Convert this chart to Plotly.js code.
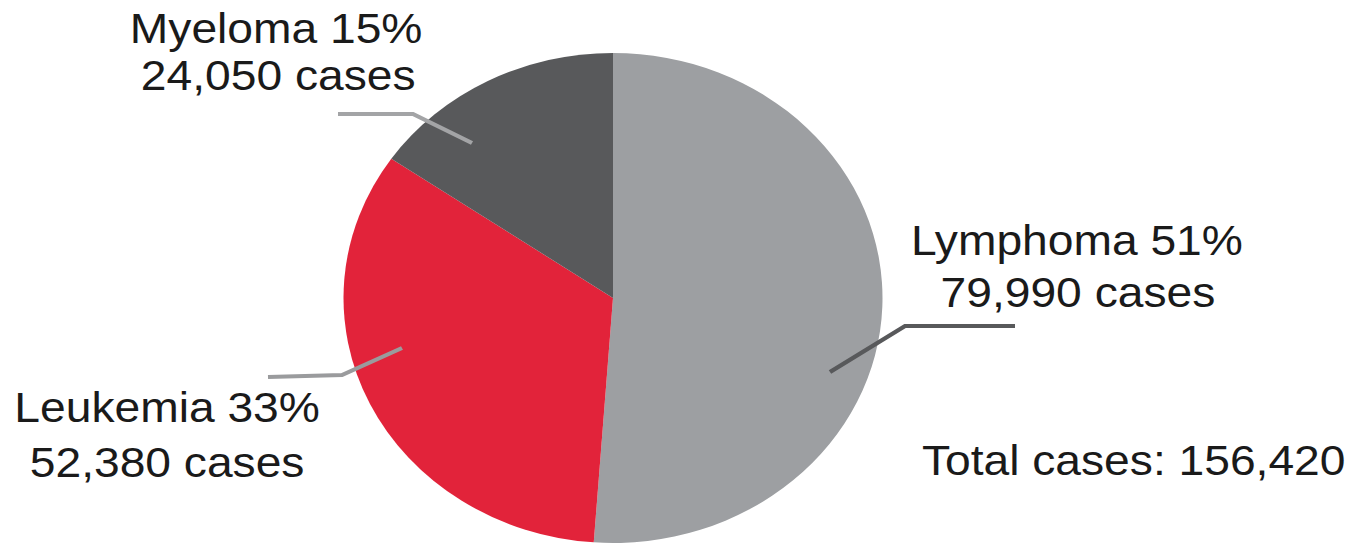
<!DOCTYPE html>
<html>
<head>
<meta charset="utf-8">
<script src="https://cdn.plot.ly/plotly-3.0.1.min.js"></script>
<style>
  html, body { margin: 0; padding: 0; background: #ffffff; overflow: hidden; }
  #chart { width: 1233px; height: 545px; transform: scaleX(1.1); transform-origin: 0 0; }
</style>
</head>
<body>
<div id="chart"></div>
<script>
// ---- data ----
const categories = ["Lymphoma", "Leukemia", "Myeloma"];
const cases = [79990, 52380, 24050];
const percentLabels = ["51%", "33%", "15%"];
const totalCases = 156420;
const sliceColors = ["#9d9fa2", "#e2233a", "#58595b"];

// ---- layout helpers (pre-stretch pixel space) ----
const W = 1233, H = 545, SX = 1.1;
const px = x => (x / SX) / W;   // reference x pixel -> paper
const py = y => 1 - y / H;      // reference y pixel -> paper

function fmt(n) { return n.toLocaleString("en-US"); }

const font = { family: "Liberation Sans, Arial, sans-serif", size: 42, color: "#1a1a1a" };

// label positions (reference pixels) per category
const labelPos = {
  Lymphoma: [[1077, 240], [1078, 292]],
  Leukemia: [[167, 407], [167, 462]],
  Myeloma: [[276, 28], [278, 75]]
};
const leaders = {
  Lymphoma: { pts: [[1015, 326], [905, 326], [830, 372]], color: "#58595b" },
  Leukemia: { pts: [[268, 377], [342, 375], [402, 348]], color: "#9a9b9d" },
  Myeloma: { pts: [[338, 114], [413, 114], [472, 143]], color: "#a3a4a6" }
};

const annotations = [];
const shapes = [];
categories.forEach((c, i) => {
  const lp = labelPos[c];
  annotations.push({ xref: "paper", yref: "paper", x: px(lp[0][0]), y: py(lp[0][1]),
    xanchor: "center", yanchor: "middle", showarrow: false,
    text: c + " " + percentLabels[i], font: font });
  annotations.push({ xref: "paper", yref: "paper", x: px(lp[1][0]), y: py(lp[1][1]),
    xanchor: "center", yanchor: "middle", showarrow: false,
    text: fmt(cases[i]) + " cases", font: font });
  const L = leaders[c];
  const path = L.pts.map((p, k) => (k ? "L" : "M") + px(p[0]) + "," + py(p[1])).join(" ");
  shapes.push({ type: "path", xref: "paper", yref: "paper", path: path,
    line: { color: L.color, width: 4 }, layer: "above" });
});
annotations.push({ xref: "paper", yref: "paper", x: px(1133), y: py(460),
  xanchor: "center", yanchor: "middle", showarrow: false,
  text: "Total cases: " + fmt(totalCases), font: font });

// pie geometry: centre (613,298) in reference, radius 245
const cx = 613 / SX, r = 245;
const trace = {
  type: "pie",
  labels: categories,
  values: cases,
  sort: false,
  direction: "clockwise",
  rotation: 0,
  textinfo: "none",
  hoverinfo: "label+value+percent",
  marker: { colors: sliceColors, line: { width: 0 } },
  domain: { x: [(cx - r) / W, (cx + r) / W], y: [py(298 + r), py(298 - r)] },
  showlegend: false
};

Plotly.newPlot("chart", [trace], {
  width: W, height: H,
  margin: { l: 0, r: 0, t: 0, b: 0 },
  paper_bgcolor: "#ffffff",
  plot_bgcolor: "#ffffff",
  showlegend: false,
  annotations: annotations,
  shapes: shapes
}, { displayModeBar: false, staticPlot: true });
</script>
</body>
</html>
